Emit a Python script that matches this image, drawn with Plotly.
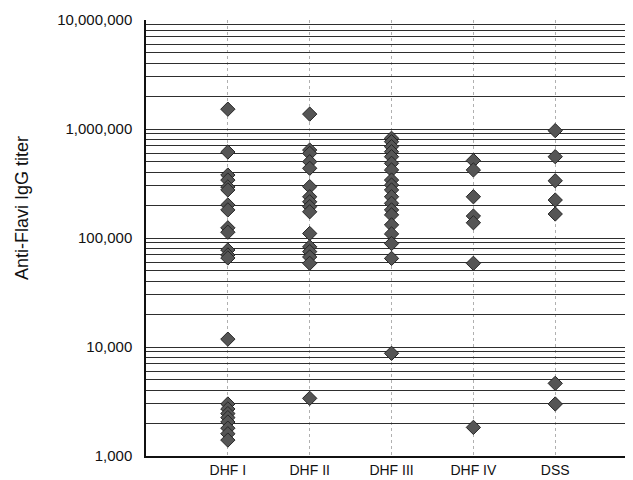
import plotly.graph_objects as go

categories = ["DHF I", "DHF II", "DHF III", "DHF IV", "DSS"]

dhf1 = [1520000, 615000, 378000, 340000, 294000, 276000, 201000, 181000,
        124000, 113000, 77600, 69800, 65600, 11800,
        3000, 2700, 2450, 2250, 2050, 1800, 1600, 1400]
dhf2 = [1370000, 641000, 598000, 501000, 436000, 296000, 239000, 215000,
        194000, 174000, 110000, 83000, 75000, 67000, 58600, 3380]
dhf3 = [822000, 765000, 689000, 619000, 557000, 484000, 421000, 340000,
        306000, 276000, 239000, 208000, 181000, 163000, 132000, 109000,
        89000, 65000, 8750]
dhf4 = [514000, 421000, 239000, 159000, 138000, 58600, 1830]
dss = [966000, 557000, 335000, 223000, 166000, 4640, 3000]

series = [dhf1, dhf2, dhf3, dhf4, dss]

grid_vals = [m * 10 ** e for e in range(3, 7) for m in range(1, 10)] + [10 ** 7]
major_labels = {1000: "1,000", 10000: "10,000", 100000: "100,000",
                1000000: "1,000,000", 10000000: "10,000,000"}
grid_text = [major_labels.get(v, "") for v in grid_vals]

fig = go.Figure()
for cat, vals in zip(categories, series):
    fig.add_trace(go.Scatter(
        x=[cat] * len(vals), y=vals, mode="markers",
        marker=dict(symbol="diamond", size=11, color="#555555",
                    line=dict(color="#262626", width=1)),
        showlegend=False, cliponaxis=False))

# page body has an 8px default margin; the figure is sized to fit inside it
fig.update_layout(
    width=625, height=472,
    margin=dict(l=138, r=0, t=12, b=24),
    paper_bgcolor="white", plot_bgcolor="white",
    font=dict(family="Liberation Sans, Arial, sans-serif", color="#111111", size=15),
    xaxis=dict(type="category", categoryorder="array", categoryarray=categories,
               range=[-1.0, 4.95], showgrid=True, gridcolor="#b0b0b0",
               griddash="dot", gridwidth=1, showline=True, linecolor="#111111",
               linewidth=1.5, ticks="", ticklabelstandoff=0, automargin=False,
               tickfont=dict(size=14)),
    yaxis=dict(type="log", range=[3, 7], tickmode="array", tickvals=grid_vals,
               ticktext=grid_text, showgrid=True, gridcolor="#2e2e2e",
               gridwidth=1, showline=True, linecolor="#111111", linewidth=1.5,
               ticks="", ticklabelstandoff=9, zeroline=False, automargin=False,
               tickfont=dict(size=15)),
    annotations=[dict(text="Anti-Flavi IgG titer", xref="paper", yref="paper",
                      x=(14 - 138) / 487, y=(448 - 200) / 436, textangle=-90,
                      showarrow=False, xanchor="center", yanchor="middle",
                      font=dict(size=18, color="#111111"))],
)

fig.write_html("out.html")
